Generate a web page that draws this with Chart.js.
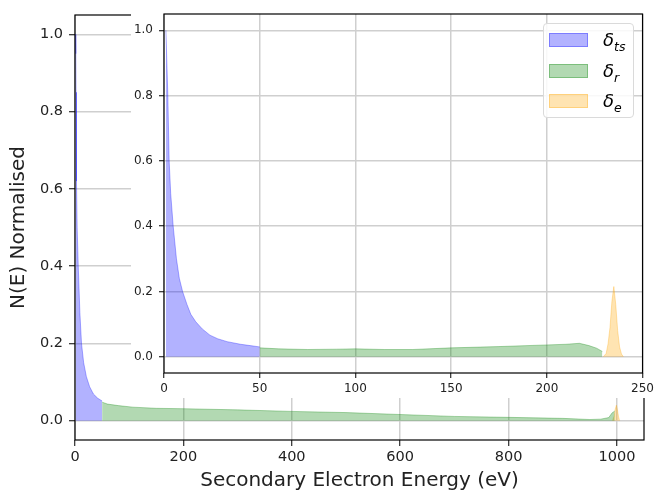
<!DOCTYPE html>
<html>
<head>
<meta charset="utf-8">
<script src="https://cdn.jsdelivr.net/npm/chart.js@4.4.1/dist/chart.umd.min.js"></script>
<style>
  body { margin: 0; background: #fff; }
  #wrap { position: relative; width: 658px; height: 493px; font-family: 'DejaVu Sans', sans-serif; }
  #main { position: absolute; left: 0; top: 0; }
  #insetBox { position: absolute; left: 131px; top: 0; width: 527px; height: 398px; background: #fff; }
  #legend { position: absolute; left: 543px; top: 23px; width: 89px; height: 93px;
            border: 1px solid #dadada; border-radius: 4px; background: rgba(255,255,255,0.85); }
  .row { position: absolute; left: 5px; width: 80px; height: 14px; }
  .sw { position: absolute; left: 0; top: 0; width: 39px; height: 14px; box-sizing: border-box; }
  .lab { position: absolute; left: 54px; top: -2px; font-size: 18px; line-height: 18px;
         font-style: italic; white-space: nowrap; color: #000; }
  .lab sub { font-size: 12.5px; line-height: 0; }
</style>
</head>
<body>
<div id="wrap">
  <canvas id="main" width="658" height="493"></canvas>
  <div id="insetBox"><canvas id="inset" width="527" height="398"></canvas></div>
  <div id="legend"></div>
</div>
<script>
// main plot, 1000 eV primary
const mainTsE = [1, 1.5, 2, 2.5, 3, 4, 6, 9, 12, 16, 21, 27, 34, 42, 50];
const mainTsN = [1.0, 0.95, 0.85, 0.75, 0.62, 0.5, 0.4, 0.28, 0.2, 0.15, 0.114, 0.088, 0.069, 0.058, 0.051];
const mainRE = [50, 60, 80, 107, 150, 200, 300, 400, 500, 600, 700, 800, 900, 950, 970, 985, 991, 996];
const mainRN = [0.048, 0.043, 0.039, 0.035, 0.032, 0.031, 0.028, 0.024, 0.021, 0.016, 0.011, 0.0086, 0.006, 0.003, 0.004, 0.008, 0.02, 0.025];
const mainEE = [992, 995, 997, 999, 1001, 1003, 1005];
const mainEN = [0, 0.012, 0.03, 0.04, 0.028, 0.01, 0];

// inset, 0-250 eV
const insetTsE = [1, 1.5, 2, 2.7, 3.5, 4.8, 6.5, 8, 9.7, 12, 14, 16.6, 20, 24, 28, 33, 40, 45, 50];
const insetTsN = [1.0, 0.9, 0.8, 0.6, 0.5, 0.4, 0.3, 0.24, 0.2, 0.16, 0.13, 0.107, 0.085, 0.066, 0.055, 0.046, 0.038, 0.034, 0.030];
const insetRE = [50, 60, 75, 90, 100, 115, 130, 150, 175, 200, 210, 217, 222, 226, 229];
const insetRN = [0.027, 0.024, 0.022, 0.023, 0.024, 0.022, 0.022, 0.027, 0.031, 0.036, 0.038, 0.041, 0.034, 0.026, 0.016];
const insetEE = [229.5, 231, 232, 233, 234, 235, 236, 237, 238, 239, 240];
const insetEN = [0, 0.01, 0.04, 0.09, 0.17, 0.215, 0.16, 0.08, 0.03, 0.008, 0];

const mainTicksX = [0, 200, 400, 600, 800, 1000];
const insetTicksX = [0, 50, 100, 150, 200, 250];
const ticksY = [0, 0.2, 0.4, 0.6, 0.8, 1.0];

const legendSubs = ['ts', 'r', 'e'];
const fillColors = ['rgba(0,0,255,0.3)', 'rgba(0,128,0,0.3)', 'rgba(255,165,0,0.3)'];

const FONT = 'DejaVu Sans';
const GRID = '#cfcfcf';

function series(xs, ys, i) {
  return {
    data: xs.map((x, k) => ({x: x, y: ys[k]})),
    showLine: true,
    fill: 'origin',
    backgroundColor: fillColors[i],
    borderColor: fillColors[i],
    borderWidth: 1,
    pointRadius: 0,
    tension: 0
  };
}

const frame = {
  id: 'frame',
  afterDraw(chart) {
    const {ctx, chartArea: a} = chart;
    ctx.save();
    ctx.strokeStyle = '#000';
    ctx.lineWidth = 1.2;
    ctx.strokeRect(a.left, a.top, a.right - a.left, a.bottom - a.top);
    ctx.restore();
  }
};

function makeOptions(o) {
  return {
    responsive: false,
    animation: false,
    layout: {padding: {top: o.top, right: o.right, left: 0, bottom: 0}},
    plugins: {legend: {display: false}, tooltip: {enabled: false}},
    scales: {
      x: {
        type: 'linear', min: 0, max: o.xMax,
        afterFit: s => { s.height = o.xHeight; },
        afterBuildTicks: s => { s.ticks = o.xTicks.map(v => ({value: v})); },
        grid: {color: GRID, lineWidth: 1.5, tickColor: '#000', tickLength: o.tick, tickWidth: 1},
        border: {display: false},
        ticks: {font: {family: FONT, size: o.fontSize}, color: '#222', padding: o.xPad, maxRotation: 0,
                callback: v => String(v)},
        title: o.xTitle ? {display: true, text: o.xTitle, font: {family: FONT, size: 20, lineHeight: 1.2},
                           color: '#222', padding: {top: 0, bottom: 0}} : {display: false}
      },
      y: {
        min: -0.05, max: 1.05,
        afterFit: s => { s.width = o.yWidth; },
        afterBuildTicks: s => { s.ticks = ticksY.map(v => ({value: v})); },
        grid: {color: GRID, lineWidth: 1.5, tickColor: '#000', tickLength: o.tick, tickWidth: 1},
        border: {display: false},
        ticks: {font: {family: FONT, size: o.fontSize}, color: '#222', padding: 6,
                callback: v => v.toFixed(1)},
        title: o.yTitle ? {display: true, text: o.yTitle, font: {family: FONT, size: 20, lineHeight: 1.2},
                           color: '#222', padding: {top: 7, bottom: 0}} : {display: false}
      }
    }
  };
}

new Chart(document.querySelector('#main'), {
  type: 'scatter',
  data: {datasets: [
    series(mainTsE, mainTsN, 0),
    series(mainRE, mainRN, 1),
    series(mainEE, mainEN, 2)
  ]},
  options: makeOptions({top: 15, right: 14, xHeight: 53, yWidth: 75, xMax: 1050, xTicks: mainTicksX,
                        fontSize: 14.5, tick: 6, xPad: 3,
                        xTitle: 'Secondary Electron Energy (eV)', yTitle: 'N(E) Normalised'}),
  plugins: [frame]
});

new Chart(document.querySelector('#inset'), {
  type: 'scatter',
  data: {datasets: [
    series(insetTsE, insetTsN, 0),
    series(insetRE, insetRN, 1),
    series(insetEE, insetEN, 2)
  ]},
  options: makeOptions({top: 14, right: 14, xHeight: 25, yWidth: 33, xMax: 250, xTicks: insetTicksX,
                        fontSize: 12, tick: 5, xPad: 4}),
  plugins: [frame]
});

// legend
const legend = document.querySelector('#legend');
legendSubs.forEach((sub, i) => {
  const row = document.createElement('div');
  row.className = 'row';
  row.style.top = (9 + i * 30.7) + 'px';
  row.innerHTML = '<div class="sw" style="background:' + fillColors[i] + ';border:1px solid ' + fillColors[i] + '"></div>' +
                  '<div class="lab">δ<sub>' + sub + '</sub></div>';
  legend.appendChild(row);
});
</script>
</body>
</html>
